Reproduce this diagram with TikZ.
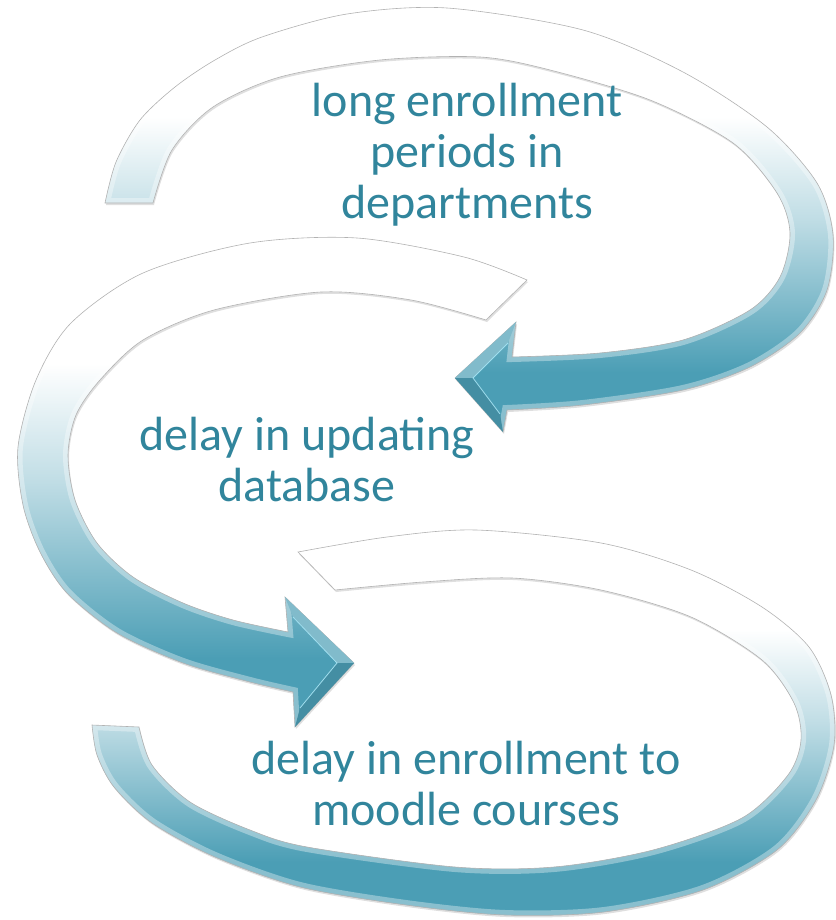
\documentclass[tikz,border=0pt]{standalone}
\usepackage{fontspec}
\setmainfont{Carlito}
\usetikzlibrary{shadows}

\definecolor{arrowteal}{RGB}{75,158,181}
\definecolor{textteal}{RGB}{49,133,156}
\definecolor{facet}{RGB}{160,222,238}

% white on top, teal at the bottom of every band
\pgfdeclareverticalshading{bandfade}{100bp}{color(0bp)=(arrowteal); color(32bp)=(arrowteal); color(50bp)=(arrowteal!35!white); color(62bp)=(white); color(100bp)=(white)}

% the three bands, in pixel coordinates
\newcommand{\pathtop}{plot[smooth] coordinates {(105,203) (116,162) (140,120) (175,87) (215,60) (262,37) (347,14) (447,8) (583,30) (683,72) (767,127) (817,183) (833,235) (827,290) (800,333) (750,367) (683,390) (583,405) (507,410)}
  -- (503,432) -- (455,378) -- (516,322)
  -- plot[smooth] coordinates {(512,357) (600,353) (683,340) (750,310) (780,277) (790,233) (777,193) (733,143) (650,100) (550,70) (480,57) (380,60) (280,77) (213,107) (172,150) (153,203)} -- cycle}
\newcommand{\pathmid}{plot[smooth] coordinates {(527,280) (464,257) (357,238) (250,243) (143,273) (71,323) (36,380) (18,447) (23,505) (40,552) (67,593) (117,633) (183,663) (250,682) (293,692)}
  -- (295,727) -- (354,663) -- (285,597)
  -- plot[smooth] coordinates {(288,632) (233,620) (183,603) (133,577) (97,543) (75,500) (68,455) (76,415) (100,380) (143,340) (214,310) (321,292) (411,300) (486,320)} -- cycle}
\newcommand{\pathlow}{plot[smooth] coordinates {(298,552) (387,537) (476,530) (601,543) (691,570) (762,607) (809,647) (831,695) (834,745) (816,800) (777,850) (703,890) (604,912) (505,915) (406,905) (300,887) (215,857) (152,823) (114,787) (97,755) (92,725)}
  -- plot[smooth] coordinates {(139,727) (152,765) (190,802) (250,830) (307,847) (455,867) (554,867) (653,850) (742,818) (788,775) (801,740) (794,703) (762,660) (691,617) (601,590) (512,578) (423,582) (335,590)} -- cycle}

\begin{document}
\begin{tikzpicture}[x=1pt, y=-1pt,
    band/.style={shading=bandfade, shading angle=0, drop shadow={opacity=0.25, shadow xshift=1pt, shadow yshift=-2pt}},
    rim/.style={white, opacity=0.35, line width=10pt},
    edge/.style={draw=gray!60, line width=0.6pt},
    boxtext/.style={text=textteal, align=center, font=\fontsize{48}{51}\selectfont}]
  \useasboundingbox (0,0) rectangle (835,920);

  % bottom band
  \shade[band] \pathlow;
  \begin{scope}
    \clip \pathlow;
    \draw[rim] \pathlow;
  \end{scope}
  \draw[edge] \pathlow;

  % middle band
  \shade[band] \pathmid;
  \begin{scope}
    \clip \pathmid;
    \draw[rim] \pathmid;
  \end{scope}
  \draw[edge] \pathmid;
  \coordinate (tipB) at (354,663);
  \coordinate (upB) at (285,597);
  \coordinate (loB) at (295,727);
  \fill[arrowteal!70!white] (tipB) -- (upB) -- (293,617) -- (337,663) -- cycle;
  \fill[arrowteal!90!black] (tipB) -- (loB) -- (300,708) -- (337,663) -- cycle;
  \draw[facet, line width=0.8pt] (293,617) -- (337,663) -- (300,708);

  % top band
  \shade[band] \pathtop;
  \begin{scope}
    \clip \pathtop;
    \draw[rim] \pathtop;
  \end{scope}
  \draw[edge] \pathtop;
  \coordinate (tipA) at (455,378);
  \coordinate (upA) at (516,322);
  \coordinate (loA) at (503,432);
  \fill[arrowteal!70!white] (tipA) -- (upA) -- (508,343) -- (473,378) -- cycle;
  \fill[arrowteal!90!black] (tipA) -- (loA) -- (500,414) -- (473,378) -- cycle;
  \draw[facet, line width=0.8pt] (508,343) -- (473,378) -- (500,414);

  \node[boxtext] (enrol) at (467,155) {long enrollment\\periods in\\departments};
  \node[boxtext] (update) at (307,460) {delay in updating\\database};
  \node[boxtext] (moodle) at (466,784) {delay in enrollment to\\moodle courses};
\end{tikzpicture}
\end{document}
